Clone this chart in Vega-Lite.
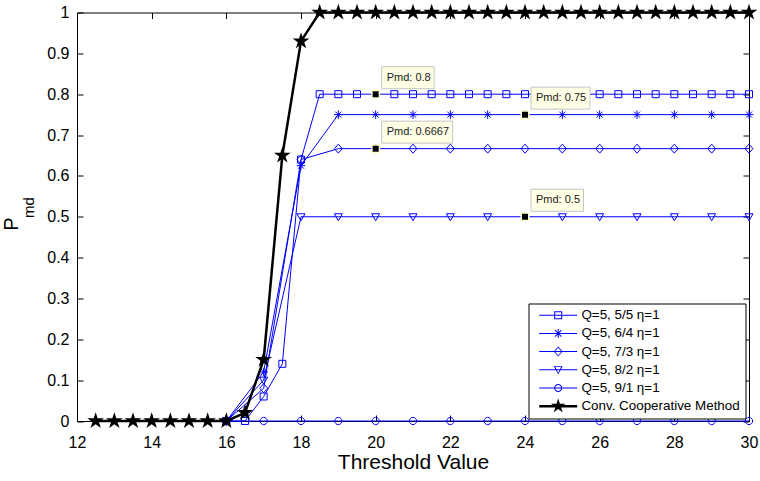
{
  "$schema": "https://vega.github.io/schema/vega-lite/v6.json",
  "width": 672,
  "height": 408.5,
  "autosize": {"type": "none"},
  "padding": {"left": 77, "top": 12.5, "right": 11, "bottom": 60},
  "background": "white",
  "config": {
    "view": {"stroke": null},
    "axis": {
      "grid": false,
      "domainColor": "black",
      "domainWidth": 1,
      "tickColor": "black",
      "tickWidth": 1,
      "tickSize": -6,
      "labelColor": "black",
      "titleColor": "black",
      "labelFont": "Liberation Sans",
      "titleFont": "Liberation Sans",
      "labelFontSize": 16,
      "titleFontSize": 21,
      "titleFontWeight": "normal",
      "labelFlush": false,
      "labelOverlap": false
    }
  },
  "datasets": {
    "curves": [
      {"series": "Q=5, 5/5 η=1", "x": 16, "y": 0},
      {"series": "Q=5, 5/5 η=1", "x": 16.5, "y": 0},
      {"series": "Q=5, 5/5 η=1", "x": 17, "y": 0.06},
      {"series": "Q=5, 5/5 η=1", "x": 17.5, "y": 0.14},
      {"series": "Q=5, 5/5 η=1", "x": 18, "y": 0.64},
      {"series": "Q=5, 5/5 η=1", "x": 18.5, "y": 0.8},
      {"series": "Q=5, 5/5 η=1", "x": 19, "y": 0.8},
      {"series": "Q=5, 5/5 η=1", "x": 19.5, "y": 0.8},
      {"series": "Q=5, 5/5 η=1", "x": 20, "y": 0.8},
      {"series": "Q=5, 5/5 η=1", "x": 20.5, "y": 0.8},
      {"series": "Q=5, 5/5 η=1", "x": 21, "y": 0.8},
      {"series": "Q=5, 5/5 η=1", "x": 21.5, "y": 0.8},
      {"series": "Q=5, 5/5 η=1", "x": 22, "y": 0.8},
      {"series": "Q=5, 5/5 η=1", "x": 22.5, "y": 0.8},
      {"series": "Q=5, 5/5 η=1", "x": 23, "y": 0.8},
      {"series": "Q=5, 5/5 η=1", "x": 23.5, "y": 0.8},
      {"series": "Q=5, 5/5 η=1", "x": 24, "y": 0.8},
      {"series": "Q=5, 5/5 η=1", "x": 24.5, "y": 0.8},
      {"series": "Q=5, 5/5 η=1", "x": 25, "y": 0.8},
      {"series": "Q=5, 5/5 η=1", "x": 25.5, "y": 0.8},
      {"series": "Q=5, 5/5 η=1", "x": 26, "y": 0.8},
      {"series": "Q=5, 5/5 η=1", "x": 26.5, "y": 0.8},
      {"series": "Q=5, 5/5 η=1", "x": 27, "y": 0.8},
      {"series": "Q=5, 5/5 η=1", "x": 27.5, "y": 0.8},
      {"series": "Q=5, 5/5 η=1", "x": 28, "y": 0.8},
      {"series": "Q=5, 5/5 η=1", "x": 28.5, "y": 0.8},
      {"series": "Q=5, 5/5 η=1", "x": 29, "y": 0.8},
      {"series": "Q=5, 5/5 η=1", "x": 29.5, "y": 0.8},
      {"series": "Q=5, 5/5 η=1", "x": 30, "y": 0.8},
      {"series": "Q=5, 6/4 η=1", "x": 16, "y": 0},
      {"series": "Q=5, 6/4 η=1", "x": 17, "y": 0.12},
      {"series": "Q=5, 6/4 η=1", "x": 18, "y": 0.625},
      {"series": "Q=5, 6/4 η=1", "x": 19, "y": 0.75},
      {"series": "Q=5, 6/4 η=1", "x": 20, "y": 0.75},
      {"series": "Q=5, 6/4 η=1", "x": 21, "y": 0.75},
      {"series": "Q=5, 6/4 η=1", "x": 22, "y": 0.75},
      {"series": "Q=5, 6/4 η=1", "x": 23, "y": 0.75},
      {"series": "Q=5, 6/4 η=1", "x": 24, "y": 0.75},
      {"series": "Q=5, 6/4 η=1", "x": 25, "y": 0.75},
      {"series": "Q=5, 6/4 η=1", "x": 26, "y": 0.75},
      {"series": "Q=5, 6/4 η=1", "x": 27, "y": 0.75},
      {"series": "Q=5, 6/4 η=1", "x": 28, "y": 0.75},
      {"series": "Q=5, 6/4 η=1", "x": 29, "y": 0.75},
      {"series": "Q=5, 6/4 η=1", "x": 30, "y": 0.75},
      {"series": "Q=5, 7/3 η=1", "x": 16, "y": 0},
      {"series": "Q=5, 7/3 η=1", "x": 17, "y": 0.08},
      {"series": "Q=5, 7/3 η=1", "x": 18, "y": 0.64},
      {"series": "Q=5, 7/3 η=1", "x": 19, "y": 0.6667},
      {"series": "Q=5, 7/3 η=1", "x": 20, "y": 0.6667},
      {"series": "Q=5, 7/3 η=1", "x": 21, "y": 0.6667},
      {"series": "Q=5, 7/3 η=1", "x": 22, "y": 0.6667},
      {"series": "Q=5, 7/3 η=1", "x": 23, "y": 0.6667},
      {"series": "Q=5, 7/3 η=1", "x": 24, "y": 0.6667},
      {"series": "Q=5, 7/3 η=1", "x": 25, "y": 0.6667},
      {"series": "Q=5, 7/3 η=1", "x": 26, "y": 0.6667},
      {"series": "Q=5, 7/3 η=1", "x": 27, "y": 0.6667},
      {"series": "Q=5, 7/3 η=1", "x": 28, "y": 0.6667},
      {"series": "Q=5, 7/3 η=1", "x": 29, "y": 0.6667},
      {"series": "Q=5, 7/3 η=1", "x": 30, "y": 0.6667},
      {"series": "Q=5, 8/2 η=1", "x": 16, "y": 0},
      {"series": "Q=5, 8/2 η=1", "x": 17, "y": 0.1},
      {"series": "Q=5, 8/2 η=1", "x": 18, "y": 0.5},
      {"series": "Q=5, 8/2 η=1", "x": 19, "y": 0.5},
      {"series": "Q=5, 8/2 η=1", "x": 20, "y": 0.5},
      {"series": "Q=5, 8/2 η=1", "x": 21, "y": 0.5},
      {"series": "Q=5, 8/2 η=1", "x": 22, "y": 0.5},
      {"series": "Q=5, 8/2 η=1", "x": 23, "y": 0.5},
      {"series": "Q=5, 8/2 η=1", "x": 24, "y": 0.5},
      {"series": "Q=5, 8/2 η=1", "x": 25, "y": 0.5},
      {"series": "Q=5, 8/2 η=1", "x": 26, "y": 0.5},
      {"series": "Q=5, 8/2 η=1", "x": 27, "y": 0.5},
      {"series": "Q=5, 8/2 η=1", "x": 28, "y": 0.5},
      {"series": "Q=5, 8/2 η=1", "x": 29, "y": 0.5},
      {"series": "Q=5, 8/2 η=1", "x": 30, "y": 0.5},
      {"series": "Q=5, 9/1 η=1", "x": 16, "y": 0},
      {"series": "Q=5, 9/1 η=1", "x": 17, "y": 0},
      {"series": "Q=5, 9/1 η=1", "x": 18, "y": 0},
      {"series": "Q=5, 9/1 η=1", "x": 19, "y": 0},
      {"series": "Q=5, 9/1 η=1", "x": 20, "y": 0},
      {"series": "Q=5, 9/1 η=1", "x": 21, "y": 0},
      {"series": "Q=5, 9/1 η=1", "x": 22, "y": 0},
      {"series": "Q=5, 9/1 η=1", "x": 23, "y": 0},
      {"series": "Q=5, 9/1 η=1", "x": 24, "y": 0},
      {"series": "Q=5, 9/1 η=1", "x": 25, "y": 0},
      {"series": "Q=5, 9/1 η=1", "x": 26, "y": 0},
      {"series": "Q=5, 9/1 η=1", "x": 27, "y": 0},
      {"series": "Q=5, 9/1 η=1", "x": 28, "y": 0},
      {"series": "Q=5, 9/1 η=1", "x": 29, "y": 0},
      {"series": "Q=5, 9/1 η=1", "x": 30, "y": 0},
      {"series": "Conv. Cooperative Method", "x": 12.5, "y": 0},
      {"series": "Conv. Cooperative Method", "x": 13, "y": 0},
      {"series": "Conv. Cooperative Method", "x": 13.5, "y": 0},
      {"series": "Conv. Cooperative Method", "x": 14, "y": 0},
      {"series": "Conv. Cooperative Method", "x": 14.5, "y": 0},
      {"series": "Conv. Cooperative Method", "x": 15, "y": 0},
      {"series": "Conv. Cooperative Method", "x": 15.5, "y": 0},
      {"series": "Conv. Cooperative Method", "x": 16, "y": 0},
      {"series": "Conv. Cooperative Method", "x": 16.5, "y": 0.02},
      {"series": "Conv. Cooperative Method", "x": 17, "y": 0.15},
      {"series": "Conv. Cooperative Method", "x": 17.5, "y": 0.65},
      {"series": "Conv. Cooperative Method", "x": 18, "y": 0.93},
      {"series": "Conv. Cooperative Method", "x": 18.5, "y": 1},
      {"series": "Conv. Cooperative Method", "x": 19, "y": 1},
      {"series": "Conv. Cooperative Method", "x": 19.5, "y": 1},
      {"series": "Conv. Cooperative Method", "x": 20, "y": 1},
      {"series": "Conv. Cooperative Method", "x": 20.5, "y": 1},
      {"series": "Conv. Cooperative Method", "x": 21, "y": 1},
      {"series": "Conv. Cooperative Method", "x": 21.5, "y": 1},
      {"series": "Conv. Cooperative Method", "x": 22, "y": 1},
      {"series": "Conv. Cooperative Method", "x": 22.5, "y": 1},
      {"series": "Conv. Cooperative Method", "x": 23, "y": 1},
      {"series": "Conv. Cooperative Method", "x": 23.5, "y": 1},
      {"series": "Conv. Cooperative Method", "x": 24, "y": 1},
      {"series": "Conv. Cooperative Method", "x": 24.5, "y": 1},
      {"series": "Conv. Cooperative Method", "x": 25, "y": 1},
      {"series": "Conv. Cooperative Method", "x": 25.5, "y": 1},
      {"series": "Conv. Cooperative Method", "x": 26, "y": 1},
      {"series": "Conv. Cooperative Method", "x": 26.5, "y": 1},
      {"series": "Conv. Cooperative Method", "x": 27, "y": 1},
      {"series": "Conv. Cooperative Method", "x": 27.5, "y": 1},
      {"series": "Conv. Cooperative Method", "x": 28, "y": 1},
      {"series": "Conv. Cooperative Method", "x": 28.5, "y": 1},
      {"series": "Conv. Cooperative Method", "x": 29, "y": 1},
      {"series": "Conv. Cooperative Method", "x": 29.5, "y": 1},
      {"series": "Conv. Cooperative Method", "x": 30, "y": 1}
    ],
    "tips": [
      {"x": 20, "y": 0.8, "label": "Pmd: 0.8"},
      {"x": 24, "y": 0.75, "label": "Pmd: 0.75"},
      {"x": 20, "y": 0.6667, "label": "Pmd: 0.6667"},
      {"x": 24, "y": 0.5, "label": "Pmd: 0.5"}
    ]
  },
  "layer": [
    {
      "data": {"name": "curves"},
      "transform": [{"filter": "datum.series !== 'Conv. Cooperative Method'"}],
      "mark": {"type": "line", "color": "#0000ff", "strokeWidth": 1},
      "encoding": {
        "x": {
          "field": "x", "type": "quantitative",
          "scale": {"domain": [12, 30], "nice": false, "zero": false},
          "axis": {
            "values": [12, 14, 16, 18, 20, 22, 24, 26, 28, 30],
            "labelPadding": 19,
            "title": "Threshold Value",
            "titleY": 47,
            "titleBaseline": "alphabetic"
          }
        },
        "y": {
          "field": "y", "type": "quantitative",
          "scale": {"domain": [0, 1], "nice": false, "zero": false},
          "axis": {
            "values": [0, 0.1, 0.2, 0.3, 0.4, 0.5, 0.6, 0.7, 0.8, 0.9, 1],
            "format": "~g",
            "labelPadding": 14,
            "title": "P",
            "titleFontSize": 20,
            "titleAngle": 270,
            "titleX": -60,
            "titleY": 211,
            "titleAlign": "center",
            "titleBaseline": "alphabetic"
          }
        },
        "detail": {"field": "series", "type": "nominal"}
      }
    },
    {
      "data": {"name": "curves"},
      "transform": [{"filter": "datum.series !== 'Conv. Cooperative Method'"}],
      "mark": {"type": "point", "filled": false, "color": "#0000ff", "strokeWidth": 1, "size": 4, "opacity": 1},
      "encoding": {
        "x": {"field": "x", "type": "quantitative", "scale": {"domain": [12, 30], "nice": false, "zero": false}, "axis": null},
        "y": {"field": "y", "type": "quantitative", "scale": {"domain": [0, 1], "nice": false, "zero": false}, "axis": null},
        "shape": {
          "field": "series", "type": "nominal", "legend": null,
          "scale": {
            "domain": ["Q=5, 5/5 η=1", "Q=5, 6/4 η=1", "Q=5, 7/3 η=1", "Q=5, 8/2 η=1", "Q=5, 9/1 η=1"],
            "range": [
              "M-3.5,-3.5H3.5V3.5H-3.5Z",
              "M0,-4.3V4.3M-4.3,0H4.3M-3,-3L3,3M-3,3L3,-3",
              "M0,-4.5L4,0L0,4.5L-4,0Z",
              "M-4,-3H4L0,4Z",
              "M3.6,0A3.6,3.6,0,1,1,-3.6,0A3.6,3.6,0,1,1,3.6,0Z"
            ]
          }
        }
      }
    },
    {
      "data": {"name": "curves"},
      "transform": [{"filter": "datum.series === 'Conv. Cooperative Method'"}],
      "mark": {
        "type": "line", "color": "black", "strokeWidth": 2.5,
        "point": {"filled": true, "color": "black", "size": 4, "opacity": 1,
          "shape": "M0,-8.8L1.98,-2.72L8.37,-2.72L3.2,1.04L5.17,7.12L0,3.36L-5.17,7.12L-3.2,1.04L-8.37,-2.72L-1.98,-2.72Z"}
      },
      "encoding": {
        "x": {
          "field": "x", "type": "quantitative",
          "scale": {"domain": [12, 30], "nice": false, "zero": false},
          "axis": {"orient": "top", "values": [12, 14, 16, 18, 20, 22, 24, 26, 28, 30], "labels": false, "title": null}
        },
        "y": {
          "field": "y", "type": "quantitative",
          "scale": {"domain": [0, 1], "nice": false, "zero": false},
          "axis": {
            "orient": "right",
            "values": [0, 0.1, 0.2, 0.3, 0.4, 0.5, 0.6, 0.7, 0.8, 0.9, 1],
            "labels": false,
            "title": "md",
            "titleFontSize": 15,
            "titleAngle": 270,
            "titleX": -716,
            "titleY": 194.5,
            "titleAlign": "center",
            "titleBaseline": "alphabetic"
          }
        }
      }
    },
    {
      "data": {"name": "tips"},
      "mark": {"type": "point", "filled": true, "fill": "#ffffe5", "stroke": "#c4c4c4", "strokeWidth": 1, "size": 4, "opacity": 1},
      "encoding": {
        "x": {"field": "x", "type": "quantitative", "scale": {"domain": [12, 30], "nice": false, "zero": false}, "axis": null},
        "y": {"field": "y", "type": "quantitative", "scale": {"domain": [0, 1], "nice": false, "zero": false}, "axis": null},
        "shape": {
          "field": "label", "type": "nominal", "legend": null,
          "scale": {
            "domain": ["Pmd: 0.8", "Pmd: 0.75", "Pmd: 0.6667", "Pmd: 0.5"],
            "range": ["M6,-27.5H58.5V-5.5H6Z", "M6,-27.5H65V-5.5H6Z", "M6,-27.5H77V-5.5H6Z", "M6,-27.5H58.5V-5.5H6Z"]
          }
        }
      }
    },
    {
      "data": {"name": "tips"},
      "mark": {"type": "point", "filled": true, "fill": "black", "stroke": "#ffffd0", "strokeWidth": 1.5, "size": 4, "opacity": 1,
        "shape": "M-3.75,-3.75H3.75V3.75H-3.75Z"},
      "encoding": {
        "x": {"field": "x", "type": "quantitative", "scale": {"domain": [12, 30], "nice": false, "zero": false}, "axis": null},
        "y": {"field": "y", "type": "quantitative", "scale": {"domain": [0, 1], "nice": false, "zero": false}, "axis": null}
      }
    },
    {
      "data": {"name": "tips"},
      "mark": {"type": "text", "align": "left", "baseline": "middle", "dx": 11, "dy": -16.5, "font": "Liberation Sans", "fontSize": 11, "color": "#1a1a1a"},
      "encoding": {
        "x": {"field": "x", "type": "quantitative", "scale": {"domain": [12, 30], "nice": false, "zero": false}, "axis": null},
        "y": {"field": "y", "type": "quantitative", "scale": {"domain": [0, 1], "nice": false, "zero": false}, "axis": null},
        "text": {"field": "label", "type": "nominal"}
      }
    },
    {
      "data": {"name": "curves"},
      "transform": [{"filter": "false"}],
      "mark": {"type": "point", "filled": true, "size": 4, "opacity": 1},
      "encoding": {
        "x": {"field": "x", "type": "quantitative", "scale": {"domain": [12, 30], "nice": false, "zero": false}, "axis": null},
        "y": {"field": "y", "type": "quantitative", "scale": {"domain": [0, 1], "nice": false, "zero": false}, "axis": null},
        "color": {
          "field": "series", "type": "nominal",
          "scale": {
            "domain": ["Q=5, 5/5 η=1", "Q=5, 6/4 η=1", "Q=5, 7/3 η=1", "Q=5, 8/2 η=1", "Q=5, 9/1 η=1", "Conv. Cooperative Method"],
            "range": ["#0000ff", "#0000ff", "#0000ff", "#0000ff", "#0000ff", "black"]
          },
          "legend": {
            "orient": "none",
            "legendX": 451.5,
            "legendY": 291,
            "title": null,
            "padding": 5,
            "strokeColor": "black",
            "fillColor": "white",
            "labelFont": "Liberation Sans",
            "labelFontSize": 13.4,
            "labelColor": "black",
            "labelLimit": 0,
            "symbolSize": 4,
            "symbolOpacity": 1,
            "symbolStrokeWidth": 0,
            "symbolOffset": 18,
            "labelOffset": 16.5,
            "rowPadding": 3.2
          }
        },
        "shape": {
          "field": "series", "type": "nominal",
          "scale": {
            "domain": ["Q=5, 5/5 η=1", "Q=5, 6/4 η=1", "Q=5, 7/3 η=1", "Q=5, 8/2 η=1", "Q=5, 9/1 η=1", "Conv. Cooperative Method"],
            "range": [
              "M-19,-0.5H19V0.5H-19ZM-4,-4H4V4H-4ZM-3,-3V3H3V-3Z",
              "M-19,-0.5H19V0.5H-19ZM-0.5,-4.5H0.5V4.5H-0.5ZM-2.85,-3.55L3.55,2.85L2.85,3.55L-3.55,-2.85ZM2.85,-3.55L3.55,-2.85L-2.85,3.55L-3.55,2.85Z",
              "M-19,-0.5H19V0.5H-19ZM0,-5L4.5,0L0,5L-4.5,0ZM0,-3.8L-3.4,0L0,3.8L3.4,0Z",
              "M-19,-0.5H19V0.5H-19ZM-4.5,-3.5H4.5L0,4.5ZM-2.9,-2.7L0,2.9L2.9,-2.7Z",
              "M-19,-0.5H19V0.5H-19ZM4,0A4,4,0,1,1,-4,0A4,4,0,1,1,4,0ZM3,0A3,3,0,1,0,-3,0A3,3,0,1,0,3,0Z",
              "M-19,-1.25H19V1.25H-19ZM0,-7.6L1.71,-2.35L7.23,-2.35L2.77,0.9L4.47,6.15L0,2.9L-4.47,6.15L-2.77,0.9L-7.23,-2.35L-1.71,-2.35Z"
            ]
          },
          "legend": {
            "orient": "none",
            "legendX": 451.5,
            "legendY": 291,
            "title": null,
            "symbolSize": 4,
            "symbolOpacity": 1,
            "symbolStrokeWidth": 0
          }
        }
      }
    }
  ],
  "resolve": {
    "axis": {"x": "independent", "y": "independent"},
    "scale": {"shape": "independent", "color": "independent"}
  }
}
